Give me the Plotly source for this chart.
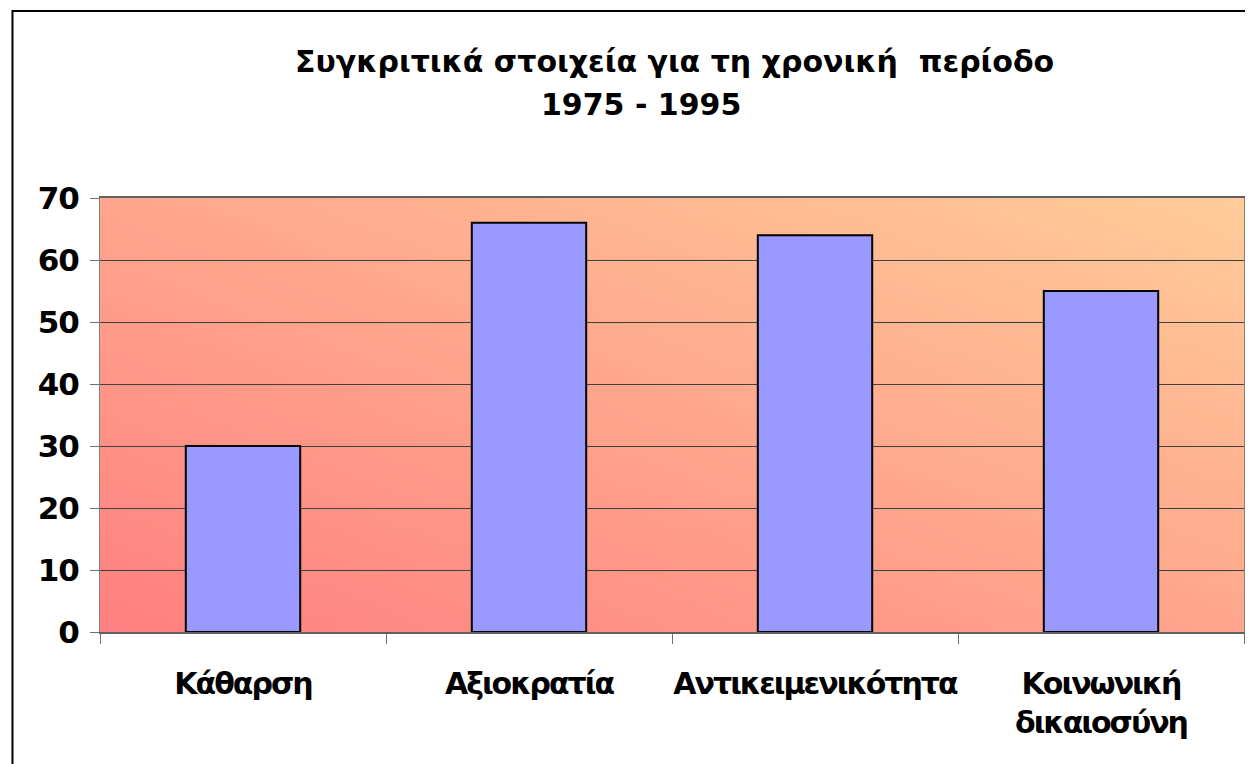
import base64, struct, zlib
import plotly.graph_objects as go

categories = ["Κάθαρση", "Αξιοκρατία", "Αντικειμενικότητα", "Κοινωνική<br>δικαιοσύνη"]
values = [30, 66, 64, 55]
y_ticks = [0, 10, 20, 30, 40, 50, 60, 70]
title_line1 = "Συγκριτικά στοιχεία για τη χρονική  περίοδο"
title_line2 = "1975 - 1995"


def gradient_png(w, h, c0, c1):
    rows = b""
    for r in range(h):
        row = b"\x00"
        vup = 1 - r / (h - 1)
        for c in range(w):
            u = c / (w - 1)
            t = (u + vup) / 2
            px = bytes(int(round(c0[k] + (c1[k] - c0[k]) * t)) for k in range(3))
            row += px
        rows += row

    def chunk(tag, data):
        return struct.pack(">I", len(data)) + tag + data + struct.pack(">I", zlib.crc32(tag + data) & 0xffffffff)

    png = b"\x89PNG\r\n\x1a\n"
    png += chunk(b"IHDR", struct.pack(">IIBBBBB", w, h, 8, 2, 0, 0, 0))
    png += chunk(b"IDAT", zlib.compress(rows, 9))
    png += chunk(b"IEND", b"")
    return "data:image/png;base64," + base64.b64encode(png).decode()


bg = gradient_png(128, 64, (255, 128, 128), (255, 204, 153))

FONT = "DejaVu Sans, sans-serif"


def cond(s, sp):
    return "<br>".join('<b><span style="letter-spacing:%spx">%s</span></b>' % (sp, part)
                       for part in s.split("<br>"))


fig = go.Figure()
fig.add_trace(go.Bar(
    x=categories, y=values,
    marker=dict(color="#9999FF", line=dict(color="black", width=2)),
    width=0.4,
))

fig.update_layout(
    width=1245, height=756,
    margin=dict(l=92, r=9, t=190, b=132, autoexpand=False),
    paper_bgcolor="white",
    plot_bgcolor="rgba(0,0,0,0)",
    showlegend=False,
    font=dict(family=FONT, size=30, color="black"),
    images=[dict(source=bg, xref="paper", yref="paper", x=0, y=1, sizex=1, sizey=1,
                 sizing="stretch", layer="below", xanchor="left", yanchor="top")],
    shapes=[dict(type="rect", xref="paper", yref="paper", x0=-0.0765, x1=1.2, y0=-0.5, y1=1.4309,
                 line=dict(color="black", width=2), fillcolor="rgba(0,0,0,0)", layer="below")],
    annotations=[
        dict(text="<b>" + title_line1 + "</b>", xref="paper", yref="paper", x=0.5026, y=1.3134,
             xanchor="center", yanchor="middle", showarrow=False, font=dict(size=30)),
        dict(text="<b>" + title_line2 + "</b>", xref="paper", yref="paper", x=0.4729, y=1.2143,
             xanchor="center", yanchor="middle", showarrow=False, font=dict(size=30)),
    ],
)

fig.update_yaxes(
    range=[0, 70], tickvals=y_ticks, ticktext=[cond(str(v), -1) for v in y_ticks],
    tickfont=dict(size=31),
    showgrid=True, gridcolor="#404040", gridwidth=1,
    ticks="outside", ticklen=9, tickcolor="#707070", ticklabelstandoff=5,
    showline=True, linecolor="#808080", linewidth=1, mirror=True,
    zeroline=False, fixedrange=True, automargin=False,
)
fig.update_xaxes(
    tickvals=categories, ticktext=[cond(c, -2) for c in categories],
    tickfont=dict(size=30),
    tickson="boundaries", ticks="outside", ticklen=10, tickcolor="#707070",
    ticklabelstandoff=24, tickangle=0, automargin=False,
    showline=True, linecolor="#606060", linewidth=2, mirror=True,
    showgrid=False, fixedrange=True,
)

fig.write_html("out.html")
